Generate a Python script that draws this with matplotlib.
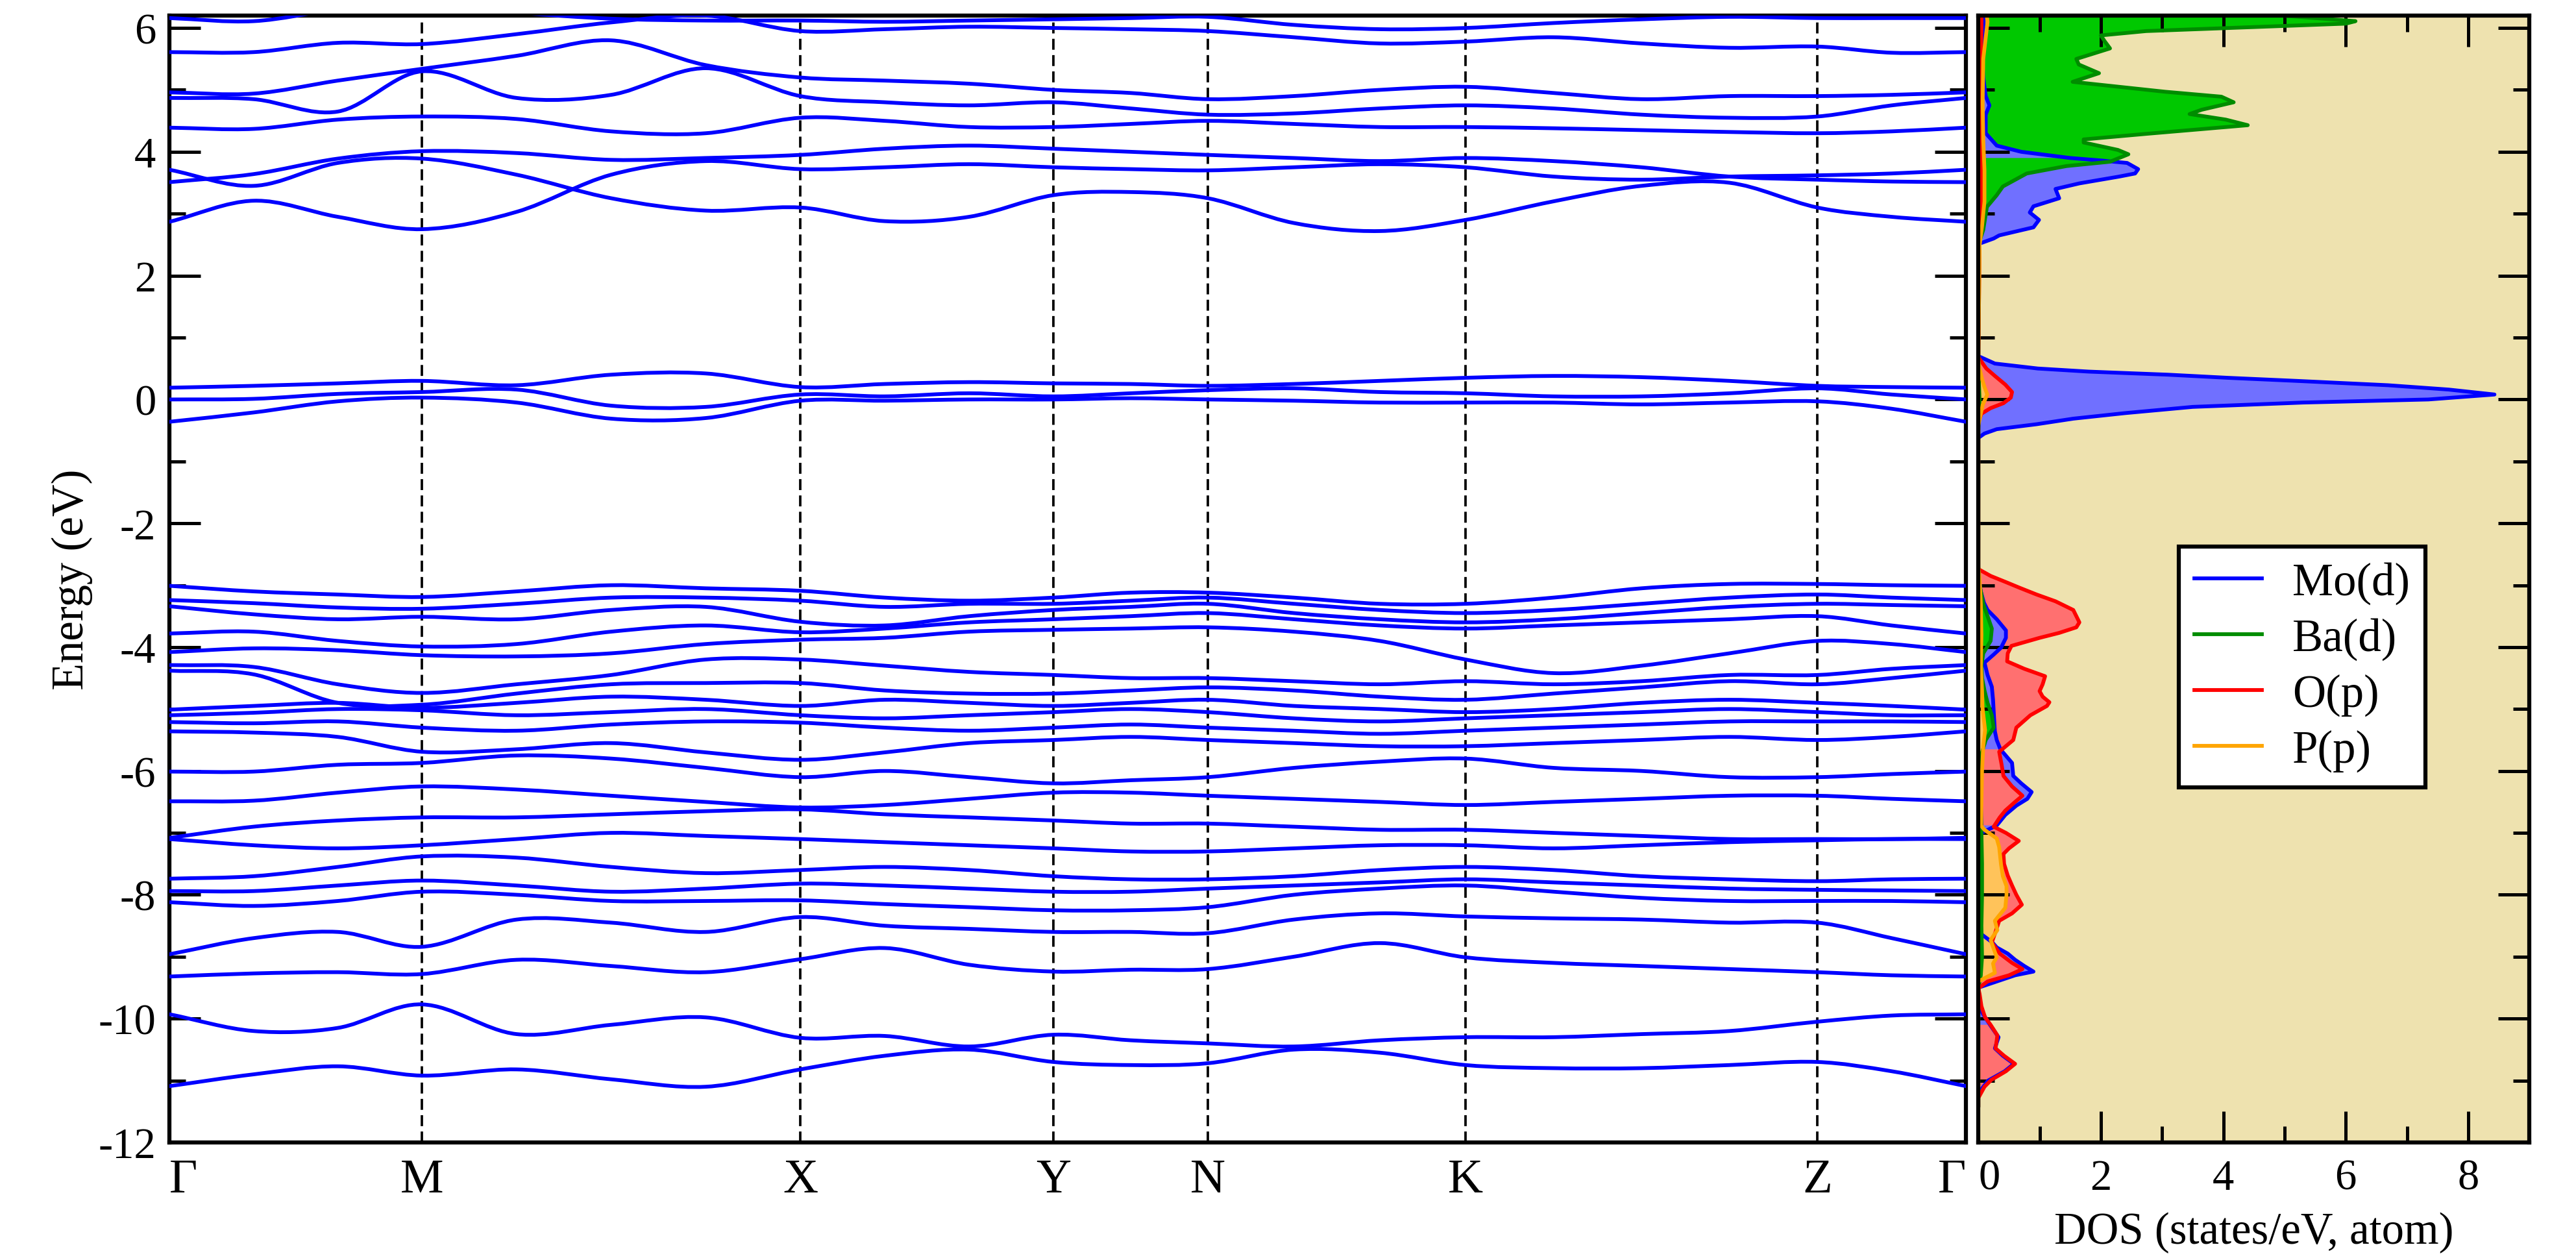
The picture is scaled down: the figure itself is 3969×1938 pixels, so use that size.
import numpy as np
import matplotlib.pyplot as plt
from matplotlib.ticker import MultipleLocator
from matplotlib.path import Path
from matplotlib.patches import PathPatch

plt.rcParams['font.family'] = ['Liberation Serif', 'DejaVu Serif']
plt.rcParams['axes.unicode_minus'] = False

# high symmetry path (distance along path, arbitrary units)
hs_labels = ['Γ', 'M', 'X', 'Y', 'N', 'K', 'Z', 'Γ']
hs_pos = [0.0, 0.389, 0.972, 1.362, 1.600, 1.997, 2.539, 2.768]
seg_div = [3, 4, 3, 2, 3, 4, 2]

# band energies (eV) read at the k nodes of the path
bands = [
    # conduction
    [6.16, 6.11, 6.3, 6.4, 6.25, 6.15, 6.12, 6.12, 6.1, 6.12, 6.14, 6.16, 6.18, 6.05, 5.98, 6.0, 6.08, 6.14, 6.18, 6.16, 6.16, 6.16],
    [5.61, 5.61, 5.76, 5.74, 5.9, 6.09, 6.2, 5.95, 5.98, 6.02, 6.0, 5.98, 5.95, 5.85, 5.75, 5.78, 5.85, 5.75, 5.68, 5.7, 5.6, 5.61],
    [4.96, 4.94, 5.15, 5.34, 5.55, 5.80, 5.4, 5.2, 5.15, 5.1, 5.0, 4.95, 4.85, 4.9, 5.0, 5.05, 4.95, 4.85, 4.9, 4.9, 4.92, 4.96],
    [4.87, 4.85, 4.65, 5.30, 4.87, 4.92, 5.35, 4.9, 4.8, 4.75, 4.8, 4.7, 4.6, 4.62, 4.7, 4.75, 4.7, 4.6, 4.55, 4.57, 4.75, 4.87],
    [4.39, 4.37, 4.52, 4.57, 4.53, 4.33, 4.3, 4.55, 4.5, 4.4, 4.4, 4.45, 4.5, 4.45, 4.4, 4.4, 4.38, 4.35, 4.32, 4.3, 4.33, 4.39],
    [3.51, 3.64, 3.89, 4.01, 3.98, 3.87, 3.9, 3.95, 4.05, 4.1, 4.05, 4.0, 3.95, 3.9, 3.85, 3.9, 3.85, 3.75, 3.6, 3.55, 3.52, 3.51],
    [2.87, 3.21, 2.95, 2.75, 3.03, 3.63, 3.85, 3.72, 3.75, 3.8, 3.75, 3.72, 3.7, 3.75, 3.8, 3.75, 3.6, 3.55, 3.6, 3.62, 3.65, 3.71],
    [3.71, 3.45, 3.82, 3.89, 3.63, 3.25, 3.05, 3.1, 2.88, 2.95, 3.3, 3.35, 3.25, 2.85, 2.72, 2.9, 3.2, 3.45, 3.5, 3.1, 2.95, 2.87],
    # around the Fermi level
    [0.19, 0.22, 0.26, 0.30, 0.23, 0.40, 0.42, 0.2, 0.25, 0.28, 0.26, 0.25, 0.22, 0.25, 0.3, 0.35, 0.38, 0.36, 0.3, 0.22, 0.2, 0.19],
    [0.0, 0.01, 0.09, 0.12, 0.16, -0.1, -0.12, 0.08, 0.05, 0.1, 0.05, 0.1, 0.15, 0.18, 0.12, 0.1, 0.05, 0.05, 0.1, 0.18, 0.08, 0.0],
    [-0.36, -0.21, -0.03, 0.03, -0.05, -0.31, -0.3, -0.02, -0.02, 0.0, 0.0, 0.02, 0.0, -0.02, -0.05, -0.05, -0.05, -0.08, -0.05, -0.03, -0.15, -0.36],
    # valence
    [-3.01, -3.1, -3.15, -3.19, -3.1, -3.0, -3.05, -3.09, -3.2, -3.25, -3.2, -3.12, -3.12, -3.2, -3.3, -3.3, -3.2, -3.05, -2.98, -2.98, -3.0, -3.01],
    [-3.24, -3.29, -3.36, -3.38, -3.3, -3.2, -3.2, -3.25, -3.35, -3.3, -3.3, -3.25, -3.2, -3.3, -3.4, -3.45, -3.4, -3.3, -3.2, -3.15, -3.2, -3.24],
    [-3.34, -3.47, -3.55, -3.51, -3.55, -3.4, -3.35, -3.59, -3.65, -3.5, -3.4, -3.35, -3.3, -3.45, -3.55, -3.6, -3.55, -3.45, -3.35, -3.3, -3.32, -3.34],
    [-3.78, -3.75, -3.9, -3.99, -3.95, -3.75, -3.65, -3.76, -3.7, -3.6, -3.55, -3.5, -3.45, -3.55, -3.65, -3.7, -3.65, -3.6, -3.55, -3.5, -3.65, -3.78],
    [-4.08, -4.02, -4.05, -4.13, -4.15, -4.1, -3.95, -3.88, -3.85, -3.75, -3.72, -3.7, -3.68, -3.75, -3.9, -4.2, -4.42, -4.3, -4.1, -3.9, -3.95, -4.08],
    [-4.29, -4.32, -4.6, -4.74, -4.6, -4.45, -4.2, -4.2, -4.3, -4.4, -4.45, -4.5, -4.5, -4.55, -4.6, -4.55, -4.6, -4.55, -4.45, -4.45, -4.35, -4.29],
    [-4.38, -4.44, -4.9, -4.93, -4.75, -4.6, -4.58, -4.58, -4.7, -4.75, -4.75, -4.7, -4.65, -4.7, -4.8, -4.85, -4.75, -4.65, -4.55, -4.6, -4.5, -4.38],
    [-5.01, -4.95, -4.9, -4.98, -4.9, -4.8, -4.85, -4.95, -4.85, -4.9, -4.95, -4.9, -4.85, -4.95, -5.0, -5.05, -5.0, -4.9, -4.85, -4.9, -4.95, -5.01],
    [-5.10, -5.06, -5.0, -5.02, -5.1, -5.05, -5.0, -5.10, -5.15, -5.1, -5.05, -5.0, -5.05, -5.15, -5.2, -5.15, -5.1, -5.05, -5.0, -5.05, -5.1, -5.10],
    [-5.21, -5.23, -5.2, -5.30, -5.35, -5.25, -5.2, -5.22, -5.3, -5.35, -5.3, -5.25, -5.3, -5.35, -5.4, -5.35, -5.3, -5.25, -5.2, -5.2, -5.2, -5.21],
    [-5.36, -5.38, -5.45, -5.69, -5.65, -5.55, -5.7, -5.82, -5.7, -5.55, -5.5, -5.45, -5.5, -5.55, -5.6, -5.6, -5.55, -5.5, -5.45, -5.5, -5.45, -5.36],
    [-6.01, -6.01, -5.9, -5.87, -5.75, -5.8, -5.95, -6.10, -6.0, -6.1, -6.2, -6.15, -6.1, -5.95, -5.85, -5.8, -5.95, -6.0, -6.1, -6.1, -6.05, -6.01],
    [-6.49, -6.48, -6.35, -6.25, -6.3, -6.4, -6.5, -6.59, -6.55, -6.45, -6.35, -6.35, -6.4, -6.45, -6.5, -6.55, -6.5, -6.45, -6.4, -6.4, -6.45, -6.49],
    [-7.08, -6.9, -6.8, -6.75, -6.75, -6.7, -6.65, -6.62, -6.7, -6.75, -6.8, -6.85, -6.85, -6.9, -6.95, -6.95, -7.0, -7.05, -7.1, -7.1, -7.1, -7.08],
    [-7.10, -7.2, -7.25, -7.20, -7.1, -7.0, -7.05, -7.10, -7.15, -7.2, -7.25, -7.3, -7.3, -7.25, -7.2, -7.2, -7.25, -7.2, -7.15, -7.12, -7.1, -7.10],
    [-7.74, -7.70, -7.55, -7.38, -7.4, -7.55, -7.65, -7.60, -7.55, -7.6, -7.7, -7.75, -7.75, -7.7, -7.6, -7.55, -7.6, -7.7, -7.75, -7.78, -7.75, -7.74],
    [-7.94, -7.94, -7.85, -7.77, -7.85, -7.95, -7.9, -7.82, -7.85, -7.9, -7.95, -7.95, -7.9, -7.85, -7.8, -7.75, -7.8, -7.85, -7.9, -7.92, -7.93, -7.94],
    [-8.12, -8.18, -8.1, -7.95, -8.0, -8.1, -8.1, -8.09, -8.15, -8.2, -8.25, -8.25, -8.2, -8.0, -7.9, -7.85, -7.95, -8.05, -8.1, -8.1, -8.1, -8.12],
    [-8.96, -8.7, -8.6, -8.84, -8.4, -8.45, -8.6, -8.36, -8.5, -8.55, -8.6, -8.6, -8.62, -8.4, -8.3, -8.35, -8.38, -8.4, -8.45, -8.45, -8.7, -8.96],
    [-9.32, -9.27, -9.25, -9.28, -9.05, -9.15, -9.25, -9.04, -8.86, -9.13, -9.24, -9.21, -9.2, -9.0, -8.78, -9.01, -9.1, -9.15, -9.2, -9.25, -9.3, -9.32],
    [-9.93, -10.2, -10.15, -9.77, -10.25, -10.1, -9.98, -10.31, -10.28, -10.45, -10.26, -10.35, -10.4, -10.45, -10.35, -10.3, -10.3, -10.25, -10.2, -10.05, -9.95, -9.93],
    [-11.09, -10.9, -10.77, -10.92, -10.82, -10.98, -11.1, -10.82, -10.6, -10.5, -10.7, -10.75, -10.72, -10.5, -10.55, -10.75, -10.8, -10.8, -10.75, -10.7, -10.85, -11.09],
]

# projected DOS (energy in eV, states/eV/atom)
mo_E = [-11.4, -11.2, -11.0, -10.85, -10.73, -10.6, -10.48, -10.3, -10.1, -9.9, -9.7, -9.5, -9.4, -9.3, -9.24, -9.15,
        -9.05, -8.95, -8.85, -8.77, -8.6, -8.4, -8.2, -8.0, -7.8, -7.6, -7.4, -7.2, -7.0, -6.88, -6.71, -6.56, -6.45,
        -6.34, -6.2, -6.08, -5.87, -5.65, -5.5, -5.36, -5.2, -5.03, -4.85, -4.64, -4.45, -4.25, -4.12, -4.01, -3.85,
        -3.73, -3.55, -3.4, -3.28, -3.1, -2.9, -2.7,
        -0.7, -0.62, -0.55, -0.48, -0.4, -0.31, -0.22, -0.12, -0.05, 0.0, 0.08, 0.16, 0.23, 0.3, 0.35, 0.4, 0.45, 0.5,
        0.58, 0.7,
        2.4, 2.51, 2.6, 2.65, 2.78, 2.9, 3.02, 3.12, 3.25, 3.4, 3.49, 3.6, 3.65, 3.72, 3.82, 3.86, 3.9, 4.0, 4.1, 4.3,
        4.6, 4.75, 4.9, 5.2, 5.6, 6.0, 6.25]
mo_D = [0, 0, 0.16, 0.43, 0.58, 0.4, 0.27, 0.33, 0.19, 0.06, 0.02, 0.0, 0.3, 0.6, 0.9, 0.75,
        0.6, 0.48, 0.3, 0.23, 0.0, 0.0, 0.0, 0.0, 0.0, 0.0, 0.0, 0.0, 0.05, 0.30, 0.44, 0.62, 0.8,
        0.87, 0.7, 0.57, 0.55, 0.36, 0.3, 0.27, 0.26, 0.25, 0.24, 0.22, 0.15, 0.10, 0.25, 0.37, 0.45,
        0.45, 0.3, 0.15, 0.09, 0.04, 0.01, 0,
        0, 0, 0.1, 0.3, 0.95, 1.55, 2.4, 3.5, 5.3, 7.35, 8.43, 7.68, 6.69, 5.2, 4.07, 3.1, 1.8, 0.97,
        0.27, 0,
        0, 0, 0.25, 0.34, 0.9, 0.99, 0.84, 0.9, 1.32, 1.26, 1.65, 2.3, 2.56, 2.61, 2.43, 2.0, 1.5, 0.7, 0.3, 0.12,
        0.12, 0.18, 0.12, 0.08, 0.06, 0.08, 0.1]

ba_E = [-11.4, -9.5, -9.3, -9.0, -8.5, -8.0, -7.5, -7.0, -6.5, -6.0, -5.7, -5.5, -5.3, -5.1, -4.9, -4.7, -4.5, -4.3,
        -4.1, -3.9, -3.7, -3.5, -3.3, -3.0, -2.7,
        -0.5, 0.0, 0.5,
        2.5, 2.74, 3.11, 3.30, 3.44, 3.65, 3.77, 3.84, 3.96, 4.03, 4.15, 4.2, 4.29, 4.43, 4.52, 4.61, 4.68, 4.80,
        4.89, 4.97, 5.13, 5.27, 5.41, 5.50, 5.67, 5.79, 5.88, 5.95, 6.07, 6.11, 6.17, 6.25]
ba_D = [0, 0.0, 0.04, 0.06, 0.05, 0.06, 0.06, 0.05, 0.04, 0.05, 0.06, 0.12, 0.25, 0.22, 0.15, 0.1, 0.06, 0.05,
        0.08, 0.2, 0.22, 0.15, 0.08, 0.02, 0.0,
        0.0, 0.02, 0.0,
        0.0, 0.08, 0.14, 0.3, 0.4, 0.79, 1.44, 2.15, 2.45, 2.28, 1.72, 1.72, 2.74, 4.4, 4.04, 3.45, 3.65, 4.17,
        3.97, 3.05, 1.54, 1.97, 1.64, 1.6, 2.15, 2.06, 2.0, 2.74, 6.0, 6.16, 5.37, 4.3]

o_E = [-11.4, -11.28, -11.1, -10.99, -10.85, -10.73, -10.6, -10.48, -10.35, -10.27, -10.1, -9.98, -9.8, -9.6,
       -9.51, -9.4, -9.3, -9.2, -9.1, -8.95, -8.77, -8.6, -8.42, -8.3, -8.16, -8.0, -7.85, -7.69, -7.5, -7.34,
       -7.25, -7.13, -7.0, -6.9, -6.75, -6.64, -6.5, -6.4, -6.25, -6.08, -5.9, -5.69, -5.5, -5.3, -5.1, -4.95,
       -4.89, -4.8, -4.71, -4.6, -4.47, -4.35, -4.23, -4.1, -3.98, -3.85, -3.77, -3.68, -3.6, -3.5, -3.4, -3.26,
       -3.15, -3.04, -2.95, -2.85, -2.74, -2.6,
       -0.45, -0.37, -0.23, -0.14, -0.06, 0.03, 0.12, 0.24, 0.38, 0.5, 0.68,
       2.5, 3.0, 3.5, 4.0, 4.5, 5.0, 5.5, 6.0, 6.25]
o_D = [0, 0, 0.1, 0.21, 0.45, 0.6, 0.42, 0.28, 0.3, 0.31, 0.2, 0.11, 0.05, 0.02,
       0.0, 0.15, 0.5, 0.72, 0.55, 0.35, 0.22, 0.28, 0.34, 0.55, 0.71, 0.62, 0.55, 0.48, 0.42, 0.41,
       0.5, 0.66, 0.45, 0.25, 0.35, 0.44, 0.6, 0.72, 0.55, 0.41, 0.38, 0.34, 0.57, 0.62, 0.85, 1.12,
       1.16, 1.05, 1.0, 1.05, 1.09, 0.75, 0.47, 0.48, 0.54, 1.0, 1.32, 1.6, 1.65, 1.6, 1.55, 1.26,
       0.95, 0.67, 0.45, 0.2, 0.0, 0.0,
       0.0, 0.0, 0.05, 0.2, 0.41, 0.53, 0.55, 0.44, 0.27, 0.13, 0.0,
       0.02, 0.04, 0.05, 0.04, 0.05, 0.05, 0.04, 0.05, 0.05]

p_E = [-11.4, -9.4, -9.26, -9.11, -9.01, -8.87, -8.73, -8.57, -8.42, -8.21, -8.0, -7.86, -7.7, -7.51, -7.23,
       -7.09, -6.95, -6.88, -6.5, -6.0, -5.6, -5.34, -5.0, -4.7, -4.3, -3.8, -3.3, -2.9, -2.7,
       -0.6, -0.42, -0.23, -0.09, 0.08, 0.2, 0.33, 0.5, 0.65,
       2.5, 2.8, 3.2, 3.7, 4.2, 4.8, 5.5, 6.1, 6.25]
p_D = [0, 0.0, 0.27, 0.24, 0.30, 0.25, 0.2, 0.31, 0.27, 0.44, 0.46, 0.46, 0.4, 0.37, 0.34,
       0.30, 0.1, 0.04, 0.05, 0.06, 0.08, 0.11, 0.07, 0.06, 0.04, 0.05, 0.04, 0.02, 0.0,
       0.0, 0.0, 0.04, 0.07, 0.145, 0.1, 0.06, 0.02, 0.0,
       0.02, 0.06, 0.1, 0.1, 0.08, 0.07, 0.08, 0.15, 0.13]

# energy windows where Mo(d) is drawn beneath the other species
mo_big = [(-11.4, -9.95), (-9.5, -8.75), (-6.95, -5.6), (-0.8, 0.8), (2.3, 3.9)]

blue_line, blue_fill = '#0000ff', '#7070ff'
green_line, green_fill = '#008c00', '#00c800'
red_line, red_fill = '#ff0000', '#ff7070'
orange_line, orange_fill = '#ffa500', '#ffc35a'


def smooth_path(x, y):
    # cubic Bezier path through every (x, y) point, single valued in x
    x = np.asarray(x, float)
    y = np.asarray(y, float)
    m = np.empty(len(x))
    m[1:-1] = (y[2:] - y[:-2]) / (x[2:] - x[:-2])
    m[0] = (y[1] - y[0]) / (x[1] - x[0])
    m[-1] = (y[-1] - y[-2]) / (x[-1] - x[-2])
    verts = [(x[0], y[0])]
    codes = [Path.MOVETO]
    for i in range(len(x) - 1):
        h = x[i + 1] - x[i]
        verts += [(x[i] + h / 3, y[i] + m[i] * h / 3),
                  (x[i + 1] - h / 3, y[i + 1] - m[i + 1] * h / 3),
                  (x[i + 1], y[i + 1])]
        codes += [Path.CURVE4] * 3
    return Path(verts, codes)


# k nodes
k = [hs_pos[0]]
for i, n in enumerate(seg_div):
    k.extend(np.linspace(hs_pos[i], hs_pos[i + 1], n + 1)[1:])
k = np.array(k)

fig = plt.figure(figsize=(3969 / 300, 1939 / 300), dpi=300)
ax = fig.add_axes([0.0658, 0.0918, 0.6974, 0.8953])
ax2 = fig.add_axes([0.7680, 0.0918, 0.2139, 0.8953])

for e in bands:
    ax.add_patch(PathPatch(smooth_path(k, e), fill=False, edgecolor=blue_line, lw=1.4,
                           capstyle='round', joinstyle='round', zorder=3))
for p in hs_pos[1:-1]:
    ax.axvline(p, color='black', lw=0.9, linestyle=(0, (4.5, 2.2)), zorder=2)

ax.set_xlim(hs_pos[0], hs_pos[-1])
ax.set_ylim(-12, 6.2)
ax.set_xticks(hs_pos)
ax.set_xticklabels(hs_labels, fontsize=18)
ax.get_xticklabels()[0].set_ha('left')
ax.get_xticklabels()[-1].set_ha('right')
ax.tick_params(axis='x', length=0, pad=6)
ax.yaxis.set_major_locator(MultipleLocator(2))
ax.yaxis.set_minor_locator(MultipleLocator(1))
ax.tick_params(axis='y', which='both', direction='in', left=True, right=True, width=1.2, labelsize=16, pad=5)
ax.tick_params(axis='y', which='major', length=11.5)
ax.tick_params(axis='y', which='minor', length=6)
ax.set_ylabel('Energy (eV)', fontsize=16.5, labelpad=2)
for s in ax.spines.values():
    s.set_linewidth(1.5)

# DOS panel
ax2.set_facecolor('#eee2af')


def mask_in(E, windows):
    E = np.asarray(E)
    m = np.zeros(len(E), bool)
    for a, b in windows:
        m |= (E >= a) & (E <= b)
    return m


def grow(m):
    g = m.copy()
    g[1:] |= m[:-1]
    g[:-1] |= m[1:]
    return g


mo_under = mask_in(mo_E, mo_big)
ax2.fill_betweenx(mo_E, 0, mo_D, where=grow(mo_under), color=blue_fill, lw=0, zorder=1)
ax2.fill_betweenx(ba_E, 0, ba_D, where=np.array(ba_E) > 1, color=green_fill, lw=0, zorder=1)
ax2.fill_betweenx(o_E, 0, o_D, color=red_fill, lw=0, zorder=1)
ax2.fill_betweenx(mo_E, 0, mo_D, where=grow(~mo_under), color=blue_fill, lw=0, zorder=1)
ax2.fill_betweenx(ba_E, 0, ba_D, where=np.array(ba_E) < 1, color=green_fill, lw=0, zorder=1)
ax2.fill_betweenx(p_E, 0, p_D, color=orange_fill, lw=0, zorder=1)

ax2.plot(mo_D, mo_E, color=blue_line, lw=1.4, label='Mo(d)', zorder=2)
ax2.plot(ba_D, ba_E, color=green_line, lw=1.4, label='Ba(d)', zorder=2)
ax2.plot(o_D, o_E, color=red_line, lw=1.4, label='O(p)', zorder=2)
ax2.plot(p_D, p_E, color=orange_line, lw=1.4, label='P(p)', zorder=2)

ax2.set_xlim(0, 9)
ax2.set_ylim(-12, 6.2)
ax2.set_xticks([0, 2, 4, 6, 8], ['0', '2', '4', '6', '8'])
ax2.get_xticklabels()[0].set_ha('left')
ax2.xaxis.set_minor_locator(MultipleLocator(1))
ax2.yaxis.set_major_locator(MultipleLocator(2))
ax2.yaxis.set_minor_locator(MultipleLocator(1))
ax2.tick_params(which='both', direction='in', top=True, bottom=True, left=True, right=True,
                width=1.2, labelleft=False, labelsize=16, pad=6)
ax2.tick_params(which='major', length=11.5)
ax2.tick_params(which='minor', length=6)
ax2.set_xlabel('DOS (states/eV, atom)', fontsize=16.5, labelpad=5)
for s in ax2.spines.values():
    s.set_linewidth(1.5)

leg = ax2.legend(loc='upper left', bbox_to_anchor=(0.364, 0.529), fontsize=17, frameon=True,
                 fancybox=False, framealpha=1, edgecolor='black', borderaxespad=0,
                 handlelength=1.48, handletextpad=0.66, labelspacing=0.29, borderpad=0.33)
leg.get_frame().set_linewidth(1.5)
for ln in leg.get_lines():
    ln.set_linewidth(1.4)

fig.savefig('out.png', dpi=300)
